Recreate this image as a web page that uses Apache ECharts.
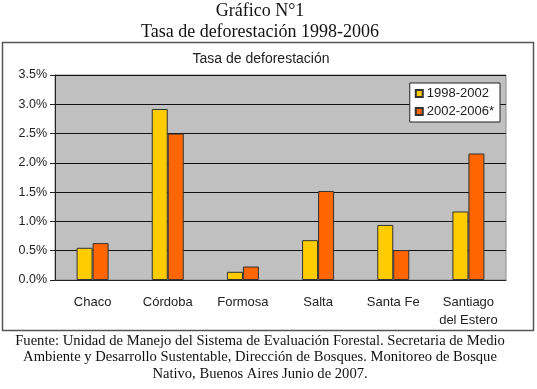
<!DOCTYPE html>
<html>
<head>
<meta charset="utf-8">
<script src="https://cdn.jsdelivr.net/npm/echarts@6/dist/echarts.min.js"></script>
<style>
  html, body { margin: 0; padding: 0; background: #fff; }
  #chart { width: 537px; height: 389px; }
</style>
</head>
<body>
<div id="chart"></div>
<script>
var myChart = echarts.init(document.getElementById("chart"));

const provincias = ["Chaco", "Córdoba", "Formosa", "Salta", "Santa Fe", "Santiago\ndel Estero"];
const serieNames = ["1998-2002", "2002-2006*"];
const tasa9802 = [0.55, 2.92, 0.14, 0.68, 0.94, 1.17];
const tasa0206 = [0.63, 2.5, 0.23, 1.52, 0.51, 2.16];
const footer = [
  "Fuente: Unidad de Manejo del Sistema de Evaluación Forestal. Secretaria de Medio",
  "Ambiente y Desarrollo Sustentable, Dirección de Bosques. Monitoreo de Bosque",
  "Nativo, Buenos Aires Junio de 2007."
];

const serif = "Liberation Serif";
const sans = "Liberation Sans";

const graphics = [
  {
    type: "rect",
    shape: { x: 2.5, y: 42.5, width: 531, height: 288 },
    style: { fill: "#fff", stroke: "#555", lineWidth: 1.5 },
    z: -10
  },
  {
    type: "text", x: 260, y: 11,
    style: { text: "Gráfico N°1", font: "18px " + serif, fill: "#111", textAlign: "center", textVerticalAlign: "middle" }
  },
  {
    type: "text", x: 260, y: 32,
    style: { text: "Tasa de deforestación 1998-2006", font: "18px " + serif, fill: "#111", textAlign: "center", textVerticalAlign: "middle" }
  },
  {
    type: "text", x: 261, y: 59,
    style: { text: "Tasa de deforestación", font: "14px " + sans, fill: "#222", textAlign: "center", textVerticalAlign: "middle" }
  }
];
footer.forEach(function (line, i) {
  graphics.push({
    type: "text", x: 260, y: 341 + i * 16.5,
    style: { text: line, font: "14.6px " + serif, fill: "#111", textAlign: "center", textVerticalAlign: "middle" }
  });
});

const option = {
  animation: false,
  grid: {
    left: 55, right: 31, top: 75, bottom: 109,
    show: true, backgroundColor: "#c0c0c0", borderColor: "#8a8a8a", borderWidth: 1
  },
  legend: {
    orient: "vertical",
    right: 37, top: 83,
    data: serieNames,
    backgroundColor: "#fff",
    borderColor: "#222", borderWidth: 1,
    padding: [4, 6, 4, 5],
    itemGap: 5,
    itemWidth: 7, itemHeight: 7,
    icon: "rect",
    textStyle: { fontFamily: sans, fontSize: 13, color: "#222", padding: [0, 0, 0, -1] }
  },
  xAxis: {
    type: "category",
    data: provincias,
    axisLine: { lineStyle: { color: "#222", width: 1 } },
    axisTick: { length: 5, lineStyle: { color: "#222" } },
    axisLabel: { interval: 0, fontFamily: sans, fontSize: 13, color: "#222", margin: 13, lineHeight: 18 }
  },
  yAxis: {
    type: "value",
    min: 0, max: 3.5, interval: 0.5,
    axisLine: { show: true, lineStyle: { color: "#222" } },
    axisTick: { show: true, length: 5, lineStyle: { color: "#222" } },
    axisLabel: {
      fontFamily: sans, fontSize: 12.5, color: "#222", margin: 8,
      formatter: function (v) { return v.toFixed(1) + "%"; }
    },
    splitLine: { lineStyle: { color: "#111", width: 1 } }
  },
  series: [
    {
      name: serieNames[0],
      type: "bar",
      data: tasa9802,
      barWidth: 16,
      barGap: "0%",
      itemStyle: { color: "#ffcc00", borderColor: "#333", borderWidth: 1 }
    },
    {
      name: serieNames[1],
      type: "bar",
      data: tasa0206,
      barWidth: 16,
      itemStyle: { color: "#ff6600", borderColor: "#333", borderWidth: 1 }
    }
  ],
  graphic: graphics
};

myChart.setOption(option);
</script>
</body>
</html>
